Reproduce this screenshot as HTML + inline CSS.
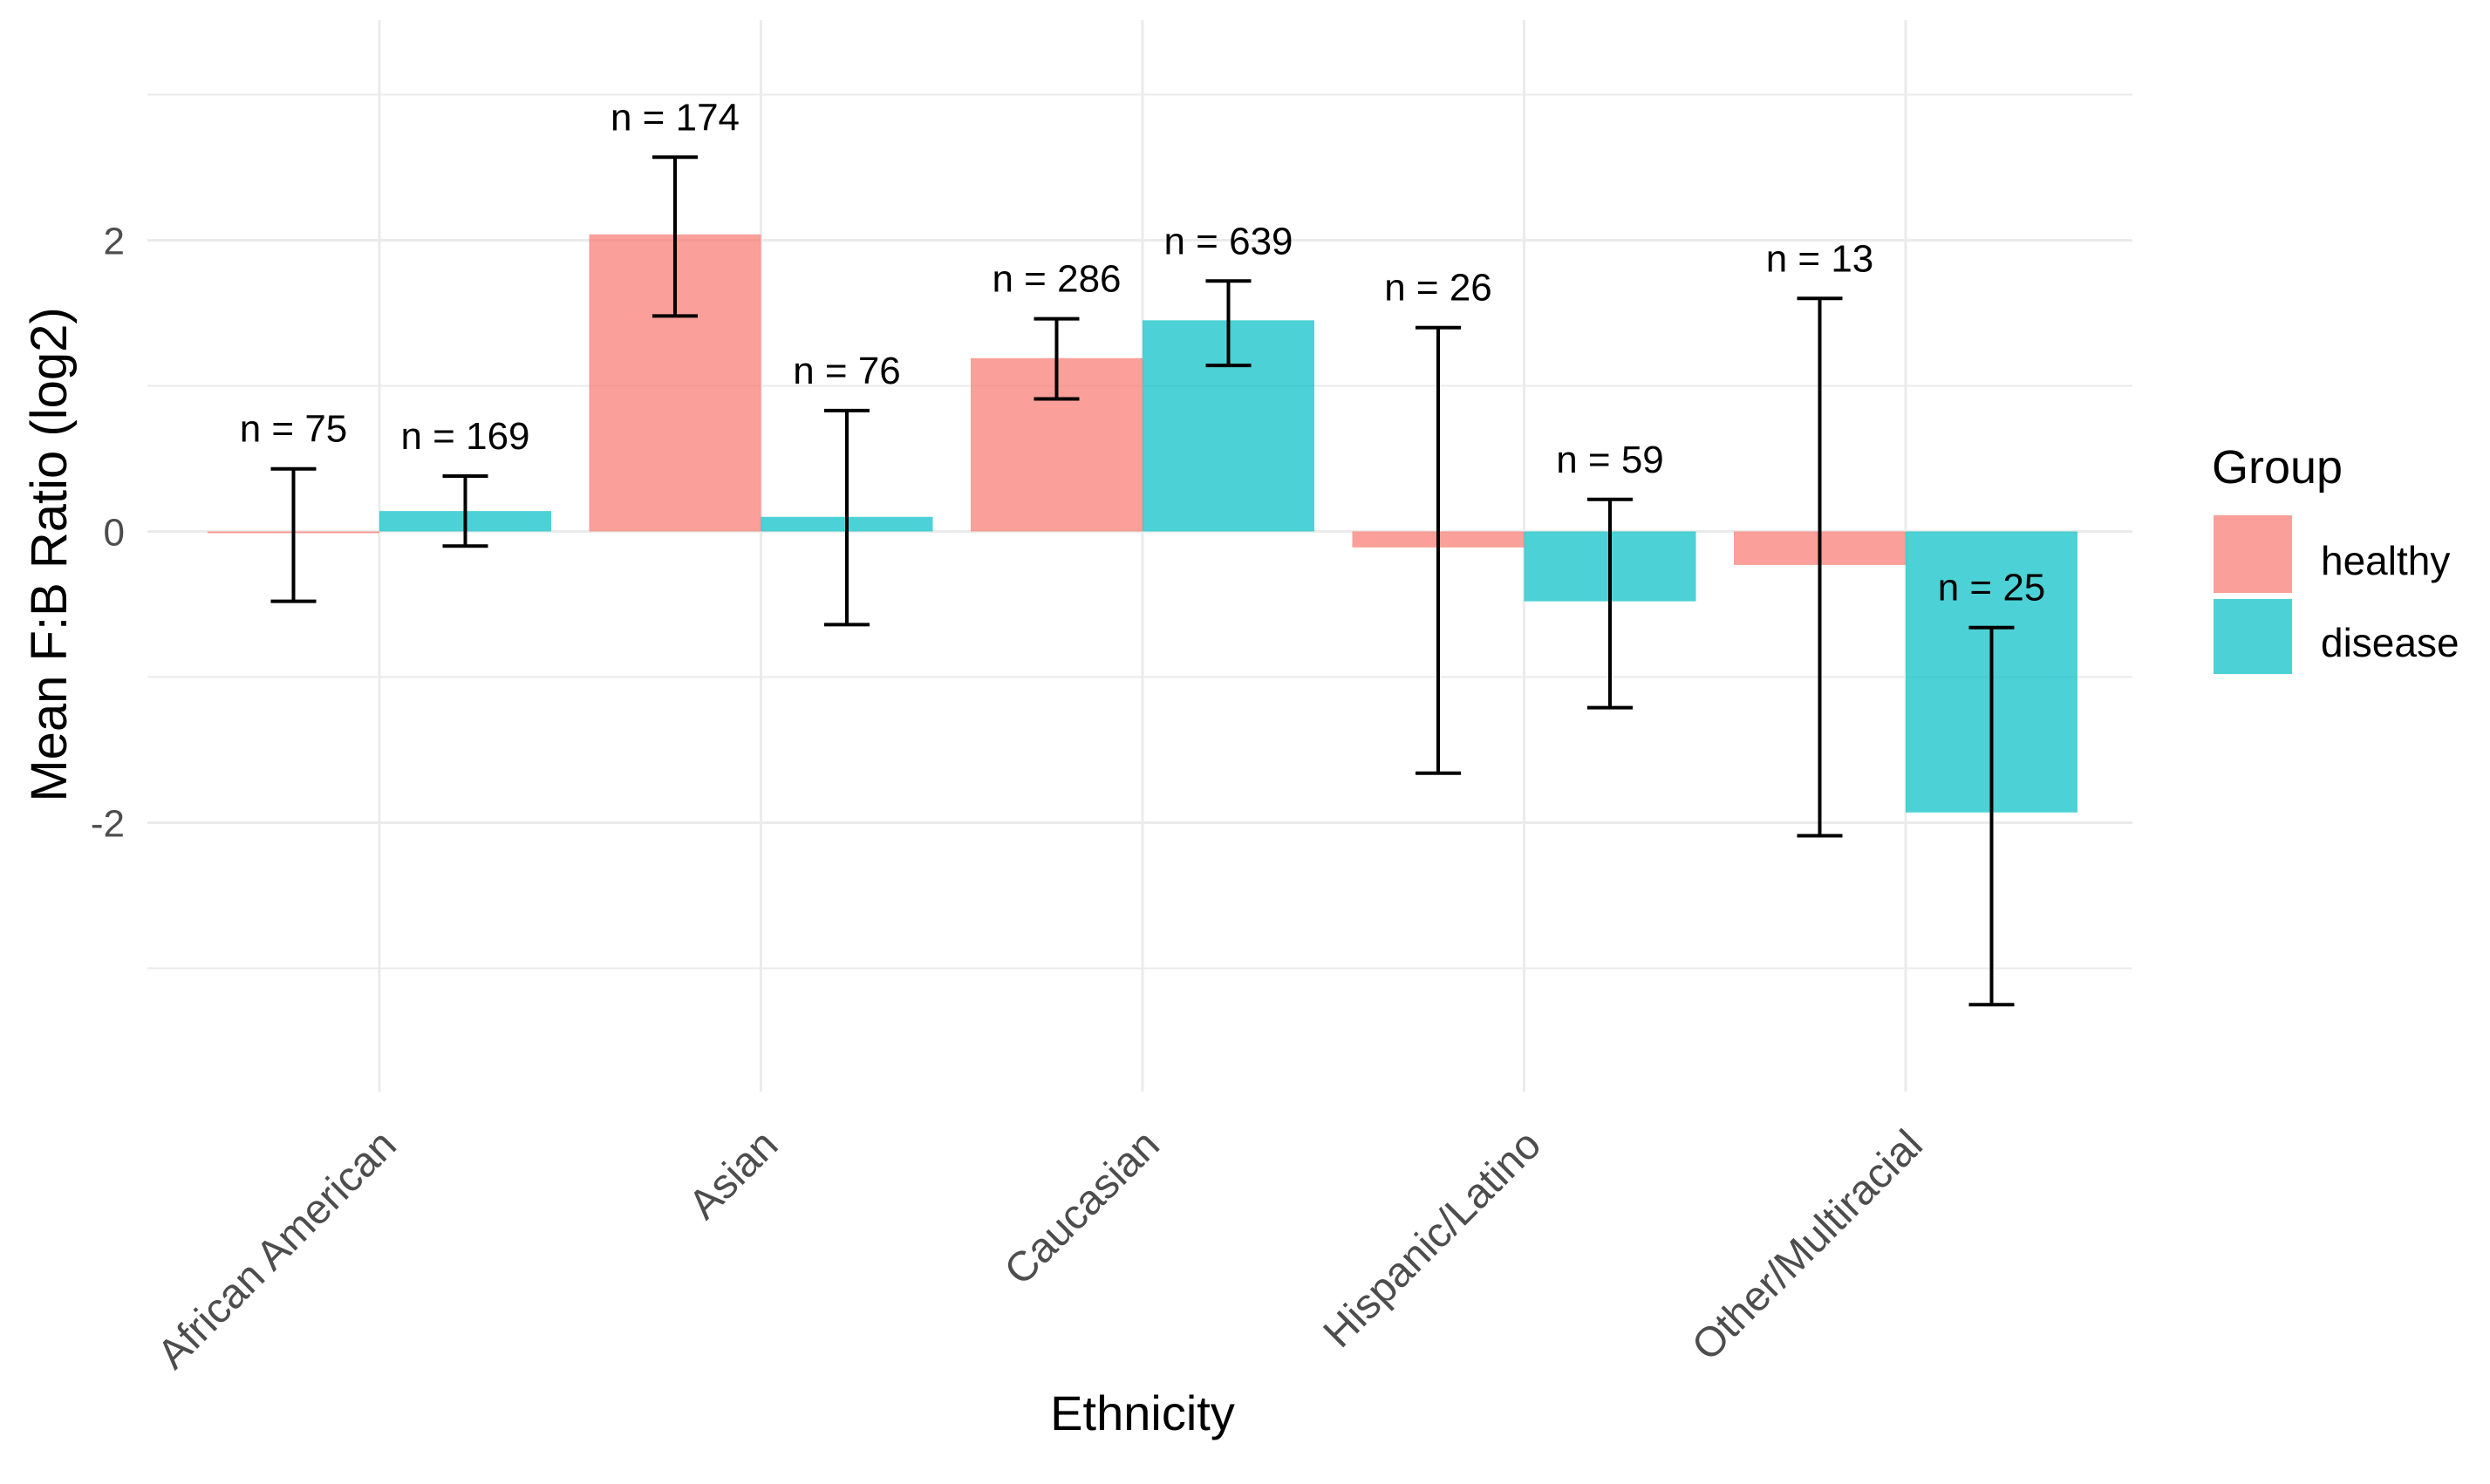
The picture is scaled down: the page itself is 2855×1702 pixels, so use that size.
<!DOCTYPE html>
<html><head><meta charset="utf-8"><style>
html,body{margin:0;padding:0;background:#fff;}
svg{display:block;font-family:"Liberation Sans",Arial,sans-serif;}
</style></head><body>
<svg id="chart" width="2855" height="1702" viewBox="0 0 2855 1702" xmlns="http://www.w3.org/2000/svg">
<g id="grid"></g>
<g id="bars"></g>
<g id="errs"></g>
<g id="labels"></g>
<g id="yticks"></g>
<g id="xticks"></g>
<text transform="translate(76,636) rotate(-90)" text-anchor="middle" font-size="58" fill="#000">Mean F:B Ratio (log2)</text>
<text x="1310" y="1640" text-anchor="middle" font-size="56" fill="#000">Ethnicity</text>
<g>
<text x="2536" y="554" font-size="54" fill="#000">Group</text>
<rect x="2538" y="591" width="90" height="89" fill="#F8766D" fill-opacity="0.7"></rect>
<text x="2661" y="659" font-size="46" fill="#000">healthy</text>
<rect x="2538" y="687" width="90" height="86" fill="#00BFC4" fill-opacity="0.7"></rect>
<text x="2661" y="753" font-size="46" fill="#000">disease</text>
</g>
</svg>
<script>
const categories = ["African American","Asian","Caucasian","Hispanic/Latino","Other/Multiracial"];
const healthyMean = [-0.01, 2.04, 1.19, -0.11, -0.23];
const healthyLow = [-0.48, 1.48, 0.91, -1.66, -2.09];
const healthyHigh = [0.43, 2.57, 1.46, 1.40, 1.60];
const healthyN = ["n = 75","n = 174","n = 286","n = 26","n = 13"];
const diseaseMean = [0.14, 0.10, 1.45, -0.48, -1.93];
const diseaseLow = [-0.10, -0.64, 1.14, -1.21, -3.25];
const diseaseHigh = [0.38, 0.83, 1.72, 0.22, -0.66];
const diseaseN = ["n = 169","n = 76","n = 639","n = 59","n = 25"];
const yTicks = [-2, 0, 2];
const yMinor = [-3, -1, 1, 3];

const NS = "http://www.w3.org/2000/svg";
const panelL = 169, panelR = 2445, panelT = 23, panelB = 1252;
const y0 = 609.5, perUnit = 167;
const catX0 = 435, catStep = 437.5;
const barW = 197;
function yS(v){ return y0 - v * perUnit; }
function xS(i){ return catX0 + i * catStep; }
function mk(tag, attrs, parent){ const e = document.createElementNS(NS, tag); for (const k in attrs) e.setAttribute(k, attrs[k]); parent.appendChild(e); return e; }

const grid = document.getElementById('grid');
yMinor.forEach(v => {
  const l = mk('line', {x1:panelL, x2:panelR, y1:yS(v), y2:yS(v), stroke:'#ebebeb', 'stroke-width':2}, grid);
  
  
});
yTicks.forEach(v => {
  const l = mk('line', {x1:panelL, x2:panelR, y1:yS(v), y2:yS(v), stroke:'#ebebeb', 'stroke-width':3}, grid);
  
  
});
categories.forEach((c, i) => {
  const l = mk('line', {x1:xS(i), x2:xS(i), y1:panelT, y2:panelB, stroke:'#ebebeb', 'stroke-width':3}, grid);
  
  
});

const yt = document.getElementById('yticks');
yTicks.forEach(v => {
  const t = mk('text', {x:143, y:yS(v)+16, 'text-anchor':'end', 'font-size':44, fill:'#4d4d4d'}, yt);
  t.textContent = v;
  
  
});

const xt = document.getElementById('xticks');
categories.forEach((c, i) => {
  const ax = xS(i) + 22, ay = 1316;
  const t = mk('text', {transform:`translate(${ax},${ay}) rotate(-45)`, 'text-anchor':'end', 'font-size':48, fill:'#4d4d4d'}, xt);
  t.textContent = c;
  
  
});

const bars = document.getElementById('bars'), errs = document.getElementById('errs'), labs = document.getElementById('labels');
function drawSeries(means, lows, highs, ns, color, offset, name) {
  means.forEach((m, i) => {
    const cx = xS(i) + offset * barW;
    const top = Math.min(yS(m), yS(0)), h = Math.max(Math.abs(yS(m) - yS(0)), 2);
    const r = mk('rect', {x:cx - barW/2, y:top, width:barW, height:h, fill:color, 'fill-opacity':0.7}, bars);
    
    
    const g = mk('g', {stroke:'#000', 'stroke-width':4}, errs);
    
    
    mk('line', {x1:cx, x2:cx, y1:yS(highs[i]), y2:yS(lows[i])}, g);
    mk('line', {x1:cx-26, x2:cx+26, y1:yS(highs[i]), y2:yS(highs[i])}, g);
    mk('line', {x1:cx-26, x2:cx+26, y1:yS(lows[i]), y2:yS(lows[i])}, g);
    const t = mk('text', {x:cx, y:yS(highs[i]) - 31, 'text-anchor':'middle', 'font-size':44, fill:'#000'}, labs);
    t.textContent = ns[i];
    
    
  });
}
drawSeries(healthyMean, healthyLow, healthyHigh, healthyN, '#F8766D', -0.5, 'healthy');
drawSeries(diseaseMean, diseaseLow, diseaseHigh, diseaseN, '#00BFC4', 0.5, 'disease');
</script>
</body></html>
